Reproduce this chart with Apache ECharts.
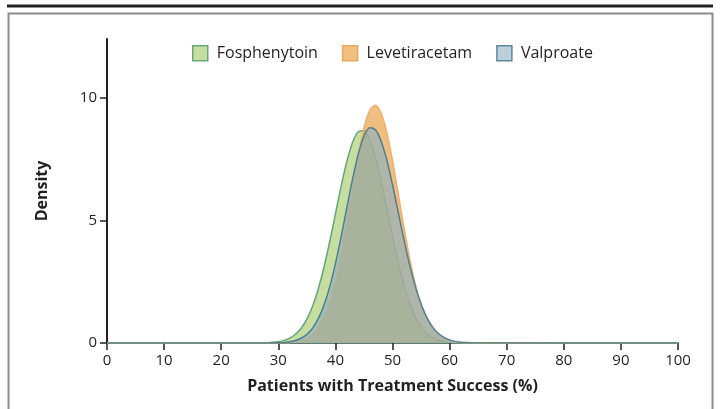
<!DOCTYPE html>
<html>
<head>
<meta charset="utf-8">
<script src="https://cdn.jsdelivr.net/npm/echarts@6/dist/echarts.min.js"></script>
<style>
html,body{margin:0;padding:0;background:#fff;}
#c{width:721px;height:409px;}
</style>
</head>
<body>
<div id="c"></div>
<script>
// Patients with treatment success (%) sample points
var xs = [0, 28, 29, 30, 31, 32, 33, 34, 35, 36, 37, 38, 39, 40, 41, 42, 43, 44, 45, 46, 47, 48, 49, 50, 51, 52, 53, 54, 55, 56, 57, 58, 59, 60, 61, 62, 63, 64, 100];
var fosphenytoin = [0, 0.013, 0.027, 0.055, 0.108, 0.201, 0.356, 0.604, 0.976, 1.503, 2.206, 3.091, 4.129, 5.26, 6.39, 7.402, 8.178, 8.616, 8.657, 8.295, 7.58, 6.605, 5.49, 4.35, 3.288, 2.37, 1.629, 1.067, 0.667, 0.398, 0.226, 0.123, 0.063, 0.031, 0.015, 0.007, 0.003, 0.001, 0];
var levetiracetam = [0, 0.0005, 0.001, 0.004, 0.009, 0.021, 0.046, 0.097, 0.192, 0.362, 0.643, 1.082, 1.724, 2.597, 3.7, 4.991, 6.367, 7.685, 8.778, 9.484, 9.697, 9.381, 8.586, 7.434, 6.091, 4.722, 3.463, 2.404, 1.578, 0.98, 0.576, 0.32, 0.168, 0.084, 0.04, 0.018, 0.007, 0.003, 0];
var valproate = [0, 0.002, 0.005, 0.011, 0.024, 0.05, 0.101, 0.193, 0.35, 0.604, 0.991, 1.545, 2.291, 3.23, 4.33, 5.517, 6.685, 7.699, 8.432, 8.78, 8.703, 8.243, 7.462, 6.455, 5.337, 4.218, 3.186, 2.3, 1.587, 1.046, 0.659, 0.397, 0.229, 0.126, 0.066, 0.033, 0.016, 0.007, 0];
var seriesNames = ['Fosphenytoin', 'Levetiracetam', 'Valproate'];
var xTicks = [0, 10, 20, 30, 40, 50, 60, 70, 80, 90, 100];
var yTicks = [0, 5, 10];

function pairs(ys) { return xs.map(function (x, i) { return [x, ys[i]]; }); }

var FONT = '"Open Sans", "Noto Sans", sans-serif';
var chart = echarts.init(document.getElementById('c'), null, {renderer: 'canvas'});

var fills = ['rgba(167,204,109,0.65)', 'rgba(232,155,60,0.65)', 'rgba(140,178,190,0.65)'];
var strokes = ['#66a57a', '#efb06c', '#4f7f92'];
var legendFill = ['#c6dea0', '#f0c080', '#bdd0da'];
var legendBorder = ['#6aa87c', '#e8a862', '#5b8a9b'];
var dataSets = [fosphenytoin, levetiracetam, valproate];

chart.setOption({
  animation: false,
  backgroundColor: '#ffffff',
  textStyle: {fontFamily: FONT},
  graphic: [
    {type: 'rect', shape: {x: 7, y: 4.5, width: 706, height: 3}, style: {fill: '#231f20'}, silent: true},
    {type: 'polyline', shape: {points: [[8.5, 420], [8.5, 13.5], [712.5, 13.5], [712.5, 420]]}, style: {stroke: '#8c8c8c', lineWidth: 2, fill: null}, silent: true}
  ],
  legend: {
    top: 40,
    left: 187,
    itemWidth: 15,
    itemHeight: 15,
    itemGap: 24,
    icon: 'rect',
    textStyle: {fontFamily: FONT, fontSize: 16, color: '#231f20', padding: [0, 0, 0, 4]},
    data: seriesNames.map(function (n, i) {
      return {name: n, itemStyle: {color: legendFill[i], borderColor: legendBorder[i], borderWidth: 1.5}};
    })
  },
  grid: {left: 107, right: 43, top: 39, bottom: 66, containLabel: false},
  xAxis: {
    type: 'value',
    min: 0, max: 100, interval: 10,
    name: 'Patients with Treatment Success (%)',
    nameLocation: 'middle',
    nameGap: 35,
    nameTextStyle: {fontFamily: FONT, fontSize: 16, fontWeight: 'bold', color: '#231f20'},
    axisLine: {show: true, onZero: false, lineStyle: {color: '#5e7c76', width: 2}},
    axisTick: {show: true, length: 7, lineStyle: {color: '#231f20', width: 1.5}},
    axisLabel: {fontFamily: FONT, fontSize: 15, color: '#231f20', margin: 10, customValues: xTicks},
    splitLine: {show: false}
  },
  yAxis: {
    type: 'value',
    min: 0, max: 12.4, interval: 5,
    name: 'Density',
    nameLocation: 'middle',
    nameGap: 57,
    nameRotate: 90,
    nameTextStyle: {fontFamily: FONT, fontSize: 16, fontWeight: 'bold', color: '#231f20'},
    axisLine: {show: true, lineStyle: {color: '#231f20', width: 2}},
    axisTick: {show: true, length: 7, lineStyle: {color: '#231f20', width: 1.5}, customValues: yTicks},
    axisLabel: {fontFamily: FONT, fontSize: 15, color: '#231f20', margin: 10, customValues: yTicks},
    splitLine: {show: false}
  },
  series: seriesNames.map(function (n, i) {
    return {
      name: n,
      type: 'line',
      smooth: 0.3,
      showSymbol: false,
      symbol: 'none',
      data: pairs(dataSets[i]),
      lineStyle: {color: strokes[i], width: 1.5},
      itemStyle: {color: legendFill[i]},
      areaStyle: {color: fills[i], opacity: 1},
      z: 2 + i
    };
  })
});
</script>
</body>
</html>
